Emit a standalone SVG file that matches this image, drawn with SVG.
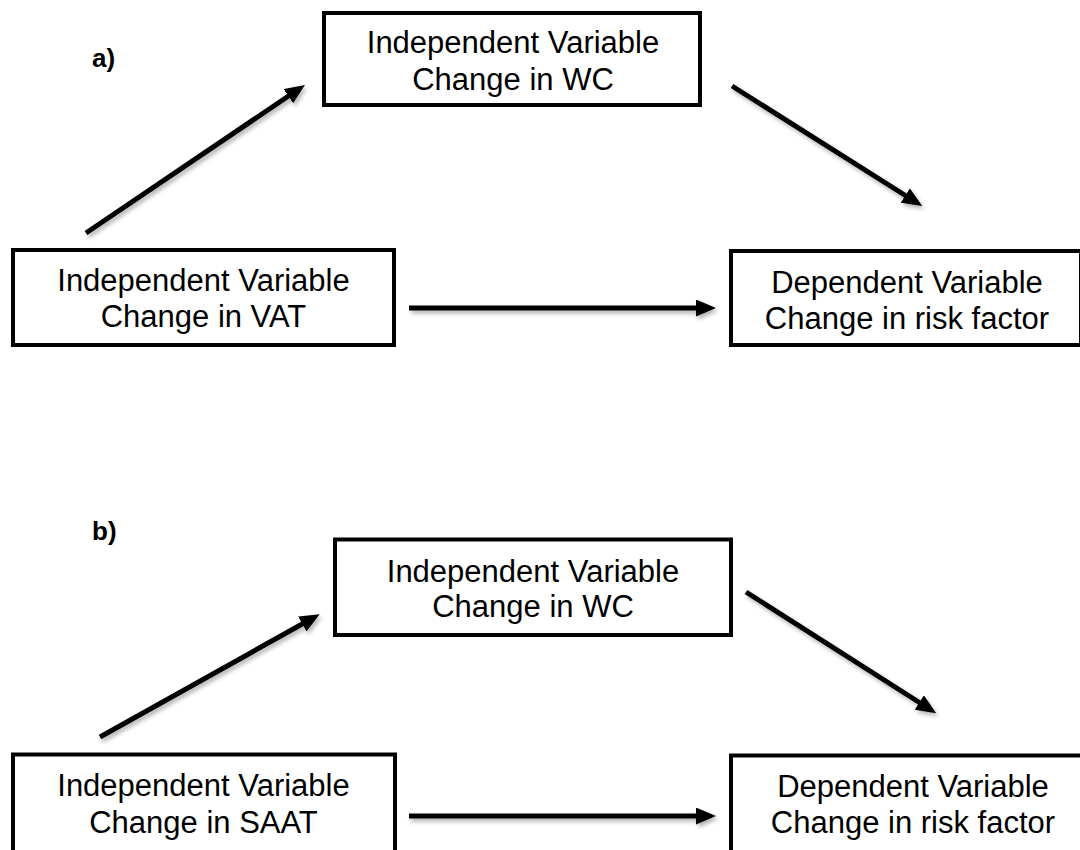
<svg xmlns="http://www.w3.org/2000/svg" width="1080" height="850" viewBox="0 0 1080 850">
  <style>
    .box { fill: #ffffff; stroke: #000000; stroke-width: 4; }
    .lbl { font-family: "Liberation Sans", Arial, sans-serif; font-size: 31px; fill: #000000; text-anchor: middle; }
    .tag { font-family: "Liberation Sans", Arial, sans-serif; font-size: 26px; font-weight: bold; fill: #000000; }
    .conn { fill: none; stroke: #000000; stroke-width: 5; marker-end: url(#arrow); }
  </style>
  <defs>
    <marker id="arrow" viewBox="0 0 20 17" refX="2" refY="8.5" markerWidth="20" markerHeight="17" markerUnits="userSpaceOnUse" orient="auto">
      <path d="M0,0 L20,8.5 L0,17 z" fill="#000000"/>
    </marker>
    <filter id="shadow" x="-20%" y="-20%" width="140%" height="140%">
      <feDropShadow dx="2" dy="3" stdDeviation="2" flood-color="#000000" flood-opacity="0.3"/>
    </filter>
  </defs>
  <rect width="1080" height="850" fill="#ffffff"/>

  <text class="tag" x="92" y="67">a)</text>
  <text class="tag" x="92" y="540">b)</text>

  <g id="connectors" filter="url(#shadow)">
    <path class="conn" d="M86,233 L290,95"/>
    <path class="conn" d="M732,86 L907,196.5"/>
    <path class="conn" d="M409,308 L698,308"/>
    <path class="conn" d="M100,737 L304,623"/>
    <path class="conn" d="M746,592 L921,703.5"/>
    <path class="conn" d="M409,816 L698,816"/>
  </g>

  <g id="a_wc">
    <rect class="box" x="324" y="13" width="376" height="92"/>
    <text class="lbl" x="513" y="53">Independent Variable</text>
    <text class="lbl" x="513" y="90">Change in WC</text>
  </g>
  <g id="a_vat">
    <rect class="box" x="13" y="250" width="381" height="95"/>
    <text class="lbl" x="203.5" y="291">Independent Variable</text>
    <text class="lbl" x="203.5" y="327">Change in VAT</text>
  </g>
  <g id="a_dv">
    <rect class="box" x="731" y="251" width="350" height="94"/>
    <text class="lbl" x="907" y="293">Dependent Variable</text>
    <text class="lbl" x="907" y="329">Change in risk factor</text>
  </g>
  <g id="b_wc">
    <rect class="box" x="335" y="539.5" width="396" height="95.5"/>
    <text class="lbl" x="533" y="582">Independent Variable</text>
    <text class="lbl" x="533" y="617">Change in WC</text>
  </g>
  <g id="b_saat">
    <rect class="box" x="13" y="754.5" width="382" height="100"/>
    <text class="lbl" x="203.5" y="796">Independent Variable</text>
    <text class="lbl" x="203.5" y="833">Change in SAAT</text>
  </g>
  <g id="b_dv">
    <rect class="box" x="731" y="755.5" width="380" height="100"/>
    <text class="lbl" x="913" y="797">Dependent Variable</text>
    <text class="lbl" x="913" y="833">Change in risk factor</text>
  </g>
</svg>
